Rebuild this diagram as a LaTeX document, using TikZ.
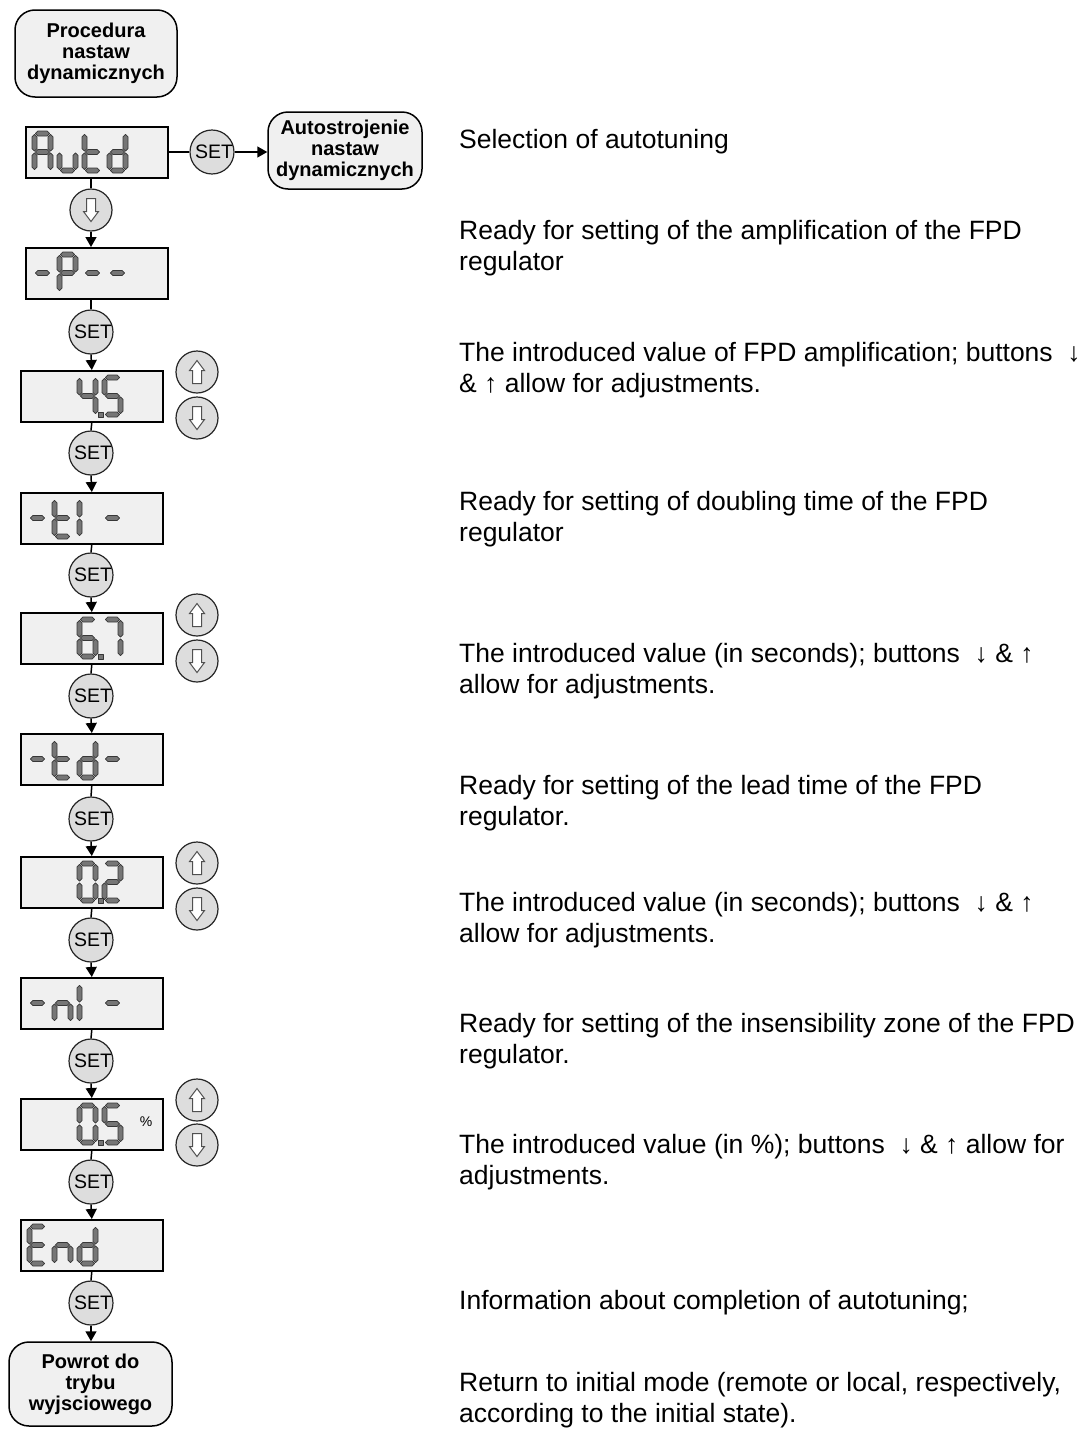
\documentclass[tikz,border=0pt]{standalone}
\usepackage{fontspec}
\setmainfont{Liberation Sans}
\usetikzlibrary{arrows.meta}
\definecolor{dispfill}{RGB}{240,240,240}
\definecolor{btnfill}{RGB}{221,221,221}
\definecolor{segfill}{RGB}{118,118,118}
\definecolor{segline}{RGB}{55,55,55}
\definecolor{iconline}{RGB}{80,80,80}
\tikzset{
  disp/.style={draw=black, line width=1.6pt, fill=dispfill, minimum width=142pt,
    minimum height=51pt, inner sep=0pt, anchor=north west},
  btn/.style={circle, draw=black!85, line width=1.2pt, fill=btnfill, minimum size=42pt,
    inner sep=0pt, font=\fontsize{19.5}{21}\selectfont},
  proc/.style={draw=black, line width=1.5pt, fill=dispfill, rounded corners=20pt,
    align=center, font=\bfseries\fontsize{20}{21}\selectfont, inner sep=0pt},
  desc/.style={anchor=base west, align=left, font=\fontsize{26.5}{31.5}\selectfont, inner sep=0pt},
  conn/.style={line width=1.5pt},
  flow/.style={line width=1.5pt, -{Triangle[length=10pt,width=11pt]}},
  segpoly/.style={draw=segline, fill=segfill, line width=0.8pt, line join=round},
  icon/.style={draw=iconline, fill=white, line width=1pt, line join=miter},
}
\def\segpa{(3.4,2.5) -- (5.9,0) -- (15.1,0) -- (17.6,2.5) -- (15.1,5) -- (5.9,5) -- cycle}
\def\segpb{(18.5,3.4) -- (21,5.9) -- (21,17.6) -- (18.5,20.1) -- (16,17.6) -- (16,5.9) -- cycle}
\def\segpc{(18.5,21.9) -- (21,24.4) -- (21,36.1) -- (18.5,38.6) -- (16,36.1) -- (16,24.4) -- cycle}
\def\segpd{(3.4,39.5) -- (5.9,37) -- (15.1,37) -- (17.6,39.5) -- (15.1,42) -- (5.9,42) -- cycle}
\def\segpe{(2.5,21.9) -- (5,24.4) -- (5,36.1) -- (2.5,38.6) -- (0,36.1) -- (0,24.4) -- cycle}
\def\segpf{(2.5,3.4) -- (5,5.9) -- (5,17.6) -- (2.5,20.1) -- (0,17.6) -- (0,5.9) -- cycle}
\def\segpg{(3.4,21) -- (5.9,18.5) -- (15.1,18.5) -- (17.6,21) -- (15.1,23.5) -- (5.9,23.5) -- cycle}
\newcommand\drawsegpoly[1]{\draw[segpoly] #1;}
\newcommand\lcddigit[3]{%
  \begin{scope}[shift={(#1.north west)}, shift={({7+25*#2},5)}]
    \foreach \s in {#3}{%
      \expandafter\drawsegpoly\csname segp\s\endcsname
    }
  \end{scope}}
\newcommand\lcddp[2]{%
  \begin{scope}[shift={(#1.north west)}, shift={({7+25*#2},5)}]
    \draw[segpoly] (21.6,37.6) rectangle (26,42);
  \end{scope}}
\newcommand\dnicon[1]{%
  \begin{scope}[shift={(#1.center)}]
    \draw[icon] (-4.5,-11.5) -- (4.5,-11.5) -- (4.5,1.5) -- (7.5,1.5) -- (0,11.5)
      -- (-7.5,1.5) -- (-4.5,1.5) -- cycle;
  \end{scope}}
\newcommand\upicon[1]{%
  \begin{scope}[shift={(#1.center)}]
    \draw[icon] (-4.5,11.5) -- (4.5,11.5) -- (4.5,-1.5) -- (7.5,-1.5) -- (0,-11.5)
      -- (-7.5,-1.5) -- (-4.5,-1.5) -- cycle;
  \end{scope}}
\begin{document}
\begin{tikzpicture}[x=1pt, y=-1pt]
\useasboundingbox (0,0) rectangle (1089,1443);
\fill[white] (0,0) rectangle (1089,1443);

% rounded boxes
\node[proc, minimum width=162pt, minimum height=87pt] (proc) at (96,53.5)
  {Procedura\\nastaw\\dynamicznych};
\node[proc, minimum width=154pt, minimum height=77pt] (auto) at (345,150.5)
  {Autostrojenie\\nastaw\\dynamicznych};
\node[proc, minimum width=163pt, minimum height=84pt] (ret) at (90.5,1384)
  {Powrot do\\trybu\\wyjsciowego};

% displays
\node[disp] (autd) at (25,126) {};
\node[disp] (dp)   at (25,247) {};
\node[disp] (v45)  at (20,370) {};
\node[disp] (dti)  at (20,492) {};
\node[disp] (v67)  at (20,612) {};
\node[disp] (dtd)  at (20,733) {};
\node[disp] (v02)  at (20,856) {};
\node[disp] (dni)  at (20,977) {};
\node[disp] (v05)  at (20,1098) {};
\node[disp] (dend) at (20,1219) {};
\node[font=\fontsize{14}{16}\selectfont, inner sep=0pt] (pct) at (146,1122) {\%};

% digits
\lcddigit{autd}{0}{a,b,c,e,f,g}
\lcddigit{autd}{1}{c,d,e}
\lcddigit{autd}{2}{d,e,f,g}
\lcddigit{autd}{3}{b,c,d,e,g}
\lcddigit{dp}{0}{g}
\lcddigit{dp}{1}{a,b,e,f,g}
\lcddigit{dp}{2}{g}
\lcddigit{dp}{3}{g}
\lcddigit{v45}{2}{b,c,f,g}
\lcddigit{v45}{3}{a,c,d,f,g}
\lcddp{v45}{2}
\lcddigit{dti}{0}{g}
\lcddigit{dti}{1}{d,e,f,g}
\lcddigit{dti}{2}{e,f}
\lcddigit{dti}{3}{g}
\lcddigit{v67}{2}{a,c,d,e,f,g}
\lcddigit{v67}{3}{a,b,c}
\lcddp{v67}{2}
\lcddigit{dtd}{0}{g}
\lcddigit{dtd}{1}{d,e,f,g}
\lcddigit{dtd}{2}{b,c,d,e,g}
\lcddigit{dtd}{3}{g}
\lcddigit{v02}{2}{a,b,c,d,e,f}
\lcddigit{v02}{3}{a,b,d,e,g}
\lcddp{v02}{2}
\lcddigit{dni}{0}{g}
\lcddigit{dni}{1}{c,e,g}
\lcddigit{dni}{2}{e,f}
\lcddigit{dni}{3}{g}
\lcddigit{v05}{2}{a,b,c,d,e,f}
\lcddigit{v05}{3}{a,c,d,f,g}
\lcddp{v05}{2}
\lcddigit{dend}{0}{a,d,e,f,g}
\lcddigit{dend}{1}{c,e,g}
\lcddigit{dend}{2}{b,c,d,e,g}

% buttons
\node[btn] (setr) at (212,152) {\hspace{4pt}SET};
\node[btn] (dn) at (91,210) {};
\node[btn] (s1) at (91,332) {\hspace{4pt}SET};
\node[btn] (s2) at (91,453) {\hspace{4pt}SET};
\node[btn] (s3) at (91,575) {\hspace{4pt}SET};
\node[btn] (s4) at (91,696) {\hspace{4pt}SET};
\node[btn] (s5) at (91,819) {\hspace{4pt}SET};
\node[btn] (s6) at (91,940) {\hspace{4pt}SET};
\node[btn] (s7) at (91,1061) {\hspace{4pt}SET};
\node[btn] (s8) at (91,1182) {\hspace{4pt}SET};
\node[btn] (s9) at (91,1303) {\hspace{4pt}SET};
\node[btn] (u1) at (197,372) {};
\node[btn] (d1) at (197,418) {};
\node[btn] (u2) at (197,615) {};
\node[btn] (d2) at (197,661) {};
\node[btn] (u3) at (197,863) {};
\node[btn] (d3) at (197,909) {};
\node[btn] (u4) at (197,1100) {};
\node[btn] (d4) at (197,1145) {};
\dnicon{dn}
\upicon{u1}\dnicon{d1}
\upicon{u2}\dnicon{d2}
\upicon{u3}\dnicon{d3}
\upicon{u4}\dnicon{d4}

% connectors
\draw[conn] (autd.east |- setr.west) -- (setr.west);
\draw[flow] (setr.east) -- (auto.west |- setr.east);
\draw[conn] (autd.south -| dn.north) -- (dn.north);
\draw[flow] (dn.south) -- (dp.north -| dn.south);
\draw[conn] (dp.south -| s1.north) -- (s1.north);
\draw[flow] (s1.south) -- (v45.north);
\draw[conn] (v45.south) -- (s2.north);
\draw[flow] (s2.south) -- (dti.north);
\draw[conn] (dti.south) -- (s3.north);
\draw[flow] (s3.south) -- (v67.north);
\draw[conn] (v67.south) -- (s4.north);
\draw[flow] (s4.south) -- (dtd.north);
\draw[conn] (dtd.south) -- (s5.north);
\draw[flow] (s5.south) -- (v02.north);
\draw[conn] (v02.south) -- (s6.north);
\draw[flow] (s6.south) -- (dni.north);
\draw[conn] (dni.south) -- (s7.north);
\draw[flow] (s7.south) -- (v05.north);
\draw[conn] (v05.south) -- (s8.north);
\draw[flow] (s8.south) -- (dend.north);
\draw[conn] (dend.south) -- (s9.north);
\draw[flow] (s9.south) -- (ret.north -| s9.south);

% descriptions (base anchor = baseline of the last line)
\node[desc] (t1) at (459,148) {Selection of autotuning};
\node[desc] (t2) at (459,270.5) {Ready for setting of the amplification of the FPD\\regulator};
\node[desc] (t3) at (459,392.5) {The introduced value of FPD amplification; buttons\ \ ↓\\\& ↑ allow for adjustments.};
\node[desc] (t4) at (459,541.5) {Ready for setting of doubling time of the FPD\\regulator};
\node[desc] (t5) at (459,693.5) {The introduced value (in seconds); buttons\ \ ↓ \& ↑\\allow for adjustments.};
\node[desc] (t6) at (459,825.5) {Ready for setting of the lead time of the FPD\\regulator.};
\node[desc] (t7) at (459,942.5) {The introduced value (in seconds); buttons\ \ ↓ \& ↑\\allow for adjustments.};
\node[desc] (t8) at (459,1063.5) {Ready for setting of the insensibility zone of the FPD\\regulator.};
\node[desc] (t9) at (459,1184.5) {The introduced value (in \%); buttons\ \ ↓ \& ↑ allow for\\adjustments.};
\node[desc] (t10) at (459,1309) {Information about completion of autotuning;};
\node[desc] (t11) at (459,1422.5) {Return to initial mode (remote or local, respectively,\\according to the initial state).};
\end{tikzpicture}
\end{document}
